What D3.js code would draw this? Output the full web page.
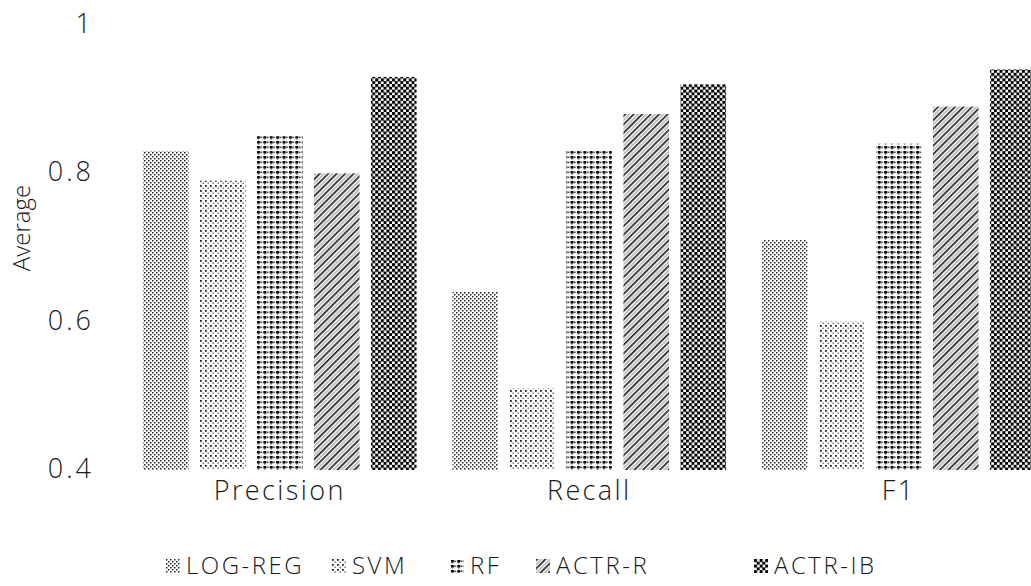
<!DOCTYPE html>
<html><head><meta charset="utf-8">
<script src="https://cdn.jsdelivr.net/npm/d3@7"></script>
<style>
html,body{margin:0;padding:0;background:#fff;}
svg{display:block;}
text{font-family:"Open Sans","DejaVu Sans",sans-serif;fill:#1a1a1a;font-weight:300;}
</style></head>
<body>
<svg id="chart" width="1031" height="586"></svg>
<script>
const categories = ["Precision", "Recall", "F1"];
const seriesNames = ["LOG-REG", "SVM", "RF", "ACTR-R", "ACTR-IB"];
const logReg = [0.83, 0.64, 0.71];
const svm    = [0.79, 0.51, 0.60];
const rf     = [0.85, 0.83, 0.84];
const actrR  = [0.80, 0.88, 0.89];
const actrIB = [0.93, 0.92, 0.94];
const yTicks = [0.4, 0.6, 0.8, 1];
const yTitle = "Average";

const seriesValues = [logReg, svm, rf, actrR, actrIB];
const svg = d3.select("#chart");

// patterns
const defs = svg.append("defs");
function pat(id, w, h, build, transform) {
  const p = defs.append("pattern").attr("id", id).attr("patternUnits", "userSpaceOnUse")
    .attr("width", w).attr("height", h);
  if (transform) p.attr("patternTransform", transform);
  p.append("rect").attr("width", w).attr("height", h).attr("fill", "#fff");
  build(p);
}
pat("p0", 4, 4, p => {
  p.append("rect").attr("x", 0).attr("y", 0).attr("width", 1.5).attr("height", 1.5).attr("fill", "#222");
  p.append("rect").attr("x", 2).attr("y", 2).attr("width", 1.5).attr("height", 1.5).attr("fill", "#222");
});
pat("p1", 5, 5, p => {
  p.append("rect").attr("x", 0).attr("y", 0).attr("width", 1.8).attr("height", 1.8).attr("fill", "#222");
  p.append("rect").attr("x", 2.5).attr("y", 2.5).attr("width", 1.4).attr("height", 1.4).attr("fill", "#666");
});
pat("p2", 6.4, 5, p => {
  p.append("rect").attr("x", 1).attr("y", 1).attr("width", 2.9).attr("height", 2.6).attr("fill", "#000");
  p.append("rect").attr("x", 4.4).attr("y", 1.5).attr("width", 1.6).attr("height", 1.6).attr("fill", "#333");
  p.append("rect").attr("x", 1.8).attr("y", 3.8).attr("width", 1.2).attr("height", 1).attr("fill", "#666");
});
pat("p3", 6, 6, p => {
  p.append("rect").attr("x", 0).attr("y", 0).attr("width", 1.7).attr("height", 6).attr("fill", "#222");
  p.append("rect").attr("x", 3.4).attr("y", 0).attr("width", 1.2).attr("height", 6).attr("fill", "#999");
}, "rotate(45)");
pat("p4", 5.6, 5.6, p => {
  p.append("rect").attr("x", 0).attr("y", 0).attr("width", 3.1).attr("height", 3.1).attr("fill", "#000");
  p.append("rect").attr("x", 2.8).attr("y", 2.8).attr("width", 3.1).attr("height", 3.1).attr("fill", "#000");
});

const y = d3.scaleLinear().domain([0.4, 1]).range([470, 25]);
const x0 = d3.scaleBand().domain(categories).range([125, 1053.5])
  .paddingInner(0.116).paddingOuter(0.058);
const x1 = d3.scaleBand().domain(seriesNames).range([0, x0.bandwidth()])
  .paddingInner(0.2).paddingOuter(0);

// bars
const g = svg.append("g");
categories.forEach((c, ci) => {
  seriesNames.forEach((s, si) => {
    const v = seriesValues[si][ci];
    g.append("rect")
      .attr("x", x0(c) + x1(s))
      .attr("y", y(v))
      .attr("width", x1.bandwidth())
      .attr("height", y(0.4) - y(v))
      .attr("fill", `url(#p${si})`);
  });
});

const FF = '"Open Sans","DejaVu Sans",sans-serif';
// y axis
const yAxis = svg.append("g").attr("transform", "translate(91,0)")
  .call(d3.axisLeft(y).tickValues(yTicks).tickSize(0).tickPadding(0)
    .tickFormat(d => d === 1 ? "1" : d3.format(".1f")(d)));
yAxis.select(".domain").remove();
yAxis.selectAll("text").style("font-family", FF).style("font-weight", 300)
  .style("font-size", "27px").style("letter-spacing", "3px").attr("fill", "#1a1a1a")
  .attr("dx", "3px").attr("dy", "0.28em");

// x axis labels
const xAxis = svg.append("g").attr("transform", "translate(0,481)")
  .call(d3.axisBottom(x0).tickSize(0).tickPadding(0));
xAxis.select(".domain").remove();
xAxis.selectAll("text").style("font-family", FF).style("font-weight", 300)
  .style("font-size", "27px").style("letter-spacing", "2.4px").attr("fill", "#1a1a1a");

// y title
svg.append("text")
  .attr("transform", "translate(30,228) rotate(-90)")
  .attr("text-anchor", "middle")
  .style("font-size", "24px")
  .text(yTitle);

// legend
const legendX = [166, 332, 450, 536, 754];
const lg = svg.append("g");
seriesNames.forEach((s, i) => {
  const it = lg.append("g").attr("transform", `translate(${legendX[i]},559)`);
  it.append("rect").attr("width", 14).attr("height", 14).attr("fill", `url(#p${i})`);
  it.append("text").attr("x", 20).attr("y", 15).style("font-size", "24px")
    .style("letter-spacing", "2.5px").text(s);
});
</script>
</body></html>
